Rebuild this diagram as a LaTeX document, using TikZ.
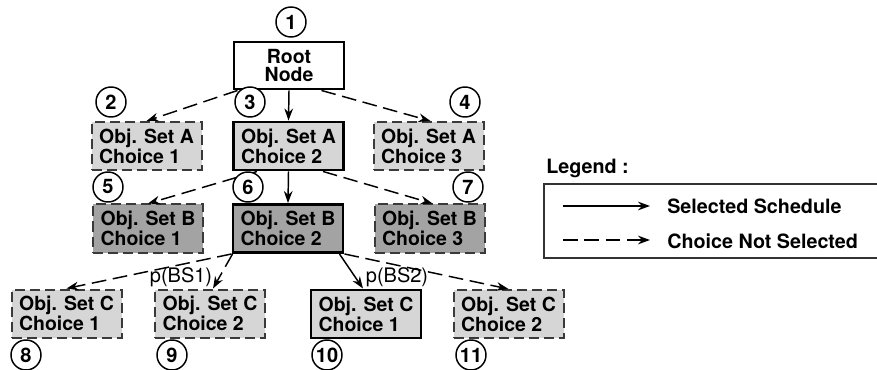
\documentclass[tikz,border=0pt]{standalone}
\usepackage{fontspec}
\setmainfont{TeX Gyre Heros}
\usetikzlibrary{arrows.meta,calc}
\definecolor{lightfill}{HTML}{D6D6D6}
\definecolor{darkfill}{HTML}{A3A3A3}
\definecolor{dashborder}{HTML}{3A3A3A}
\tikzset{
  boxtext/.style={font=\bfseries\fontsize{14.6}{14}\selectfont, align=left, inner sep=0pt,
     minimum width=82.5pt, minimum height=36pt},
  selbox/.style={boxtext, draw=black, line width=2.2pt},
  optbox/.style={boxtext, draw=dashborder, line width=1.5pt, dash pattern=on 7.5pt off 3.75pt},
  lightbox/.style={fill=lightfill},
  darkbox/.style={fill=darkfill},
  numcirc/.style={circle, draw=black, line width=1.1pt, fill=white, minimum size=22.5pt, inner sep=0pt,
     font=\bfseries\fontsize{15}{15}\selectfont},
  selarrow/.style={line width=1.1pt, -{Stealth[length=9pt,width=6.5pt]}},
  optarrow/.style={line width=1.1pt, dash pattern=on 11pt off 5pt, -{Stealth[length=9pt,width=6.5pt]}},
  problabel/.style={font=\fontsize{15}{15}\selectfont, inner sep=0pt},
  legtext/.style={font=\bfseries\fontsize{14.8}{14.8}\selectfont, inner sep=0pt, anchor=west}
}
\begin{document}
\begin{tikzpicture}[x=0.75pt,y=-0.75pt]
\useasboundingbox (0,0) rectangle (877,370);
% boxes
\node[selbox, fill=white, align=center, minimum width=82.5pt, minimum height=35.25pt] (root) at (289,65.5) {Root\\Node};
\node[optbox, lightbox] (A1) at (146.5,146) {Obj. Set A\\Choice 1};
\node[selbox, lightbox] (A2) at (288.5,146) {Obj. Set A\\Choice 2};
\node[optbox, lightbox] (A3) at (428.5,146) {Obj. Set A\\Choice 3};
\node[optbox, darkbox] (B1) at (148,228.5) {Obj. Set B\\Choice 1};
\node[selbox, darkbox] (B2) at (288,228.5) {Obj. Set B\\Choice 2};
\node[optbox, darkbox] (B3) at (429.5,228.5) {Obj. Set B\\Choice 3};
\node[optbox, lightbox] (C1) at (66.5,313.5) {Obj. Set C\\Choice 1};
\node[optbox, lightbox] (C2) at (210,313.5) {Obj. Set C\\Choice 2};
\node[selbox, lightbox] (C3) at (366,314) {Obj. Set C\\Choice 1};
\node[optbox, lightbox] (C4) at (508.5,314) {Obj. Set C\\Choice 2};
% connectors
\draw[optarrow] ($(root.south west)+(5,0)$) -- (A1.north);
\draw[selarrow] (root.south) -- (A2.north);
\draw[optarrow] ($(root.south east)+(-24,0)$) -- ($(A3.north)+(2,0)$);
\draw[optarrow] ($(A2.south west)+(25,0)$) -- (B1.north);
\draw[selarrow] (A2.south) -- (B2.north);
\draw[optarrow] ($(A2.south east)+(-22,0)$) -- ($(B3.north)+(3,0)$);
\draw[optarrow] (B2.south west) -- (C1.north);
\draw[optarrow] ($(B2.south west)+(1,0)$) -- ($(C2.north)+(3,0)$);
\draw[selarrow] ($(B2.south east)+(-5,0)$) -- ($(C3.north)+(-3,0)$);
\draw[optarrow] (B2.south east) -- (C4.north);
% probability labels
\node[problabel] (pbs1) at (181,277) {p(BS1)};
\node[problabel] (pbs2) at (397,277) {p(BS2)};
% number circles
\node[numcirc] (n1) at (291,22) {1};
\node[numcirc] (n2) at (111,102) {2};
\node[numcirc] (n3) at (250,102) {3};
\node[numcirc] (n4) at (465,102) {4};
\node[numcirc] (n5) at (108,187) {5};
\node[numcirc] (n6) at (248,187) {6};
\node[numcirc] (n7) at (468,187) {7};
\node[numcirc] (n8) at (26,355) {8};
\node[numcirc] (n9) at (172,355) {9};
\node[numcirc] (n10) at (327,355) {10};
\node[numcirc] (n11) at (471,355) {11};
% legend
\node[legtext] (legtitle) at (546,168) {Legend :};
\draw[line width=1.1pt, draw=black!80] (880,184) -- (544,184) -- (544,258) -- (880,258);
\coordinate (ls1) at (563,206);
\coordinate (le1) at (650,206);
\coordinate (ls2) at (563,240);
\coordinate (le2) at (650,240);
\draw[selarrow] (ls1) -- (le1);
\draw[optarrow] (ls2) -- (le2);
\node[legtext] (leg1) at (667,206) {Selected Schedule};
\node[legtext] (leg2) at (667,241) {Choice Not Selected};
\end{tikzpicture}
\end{document}
